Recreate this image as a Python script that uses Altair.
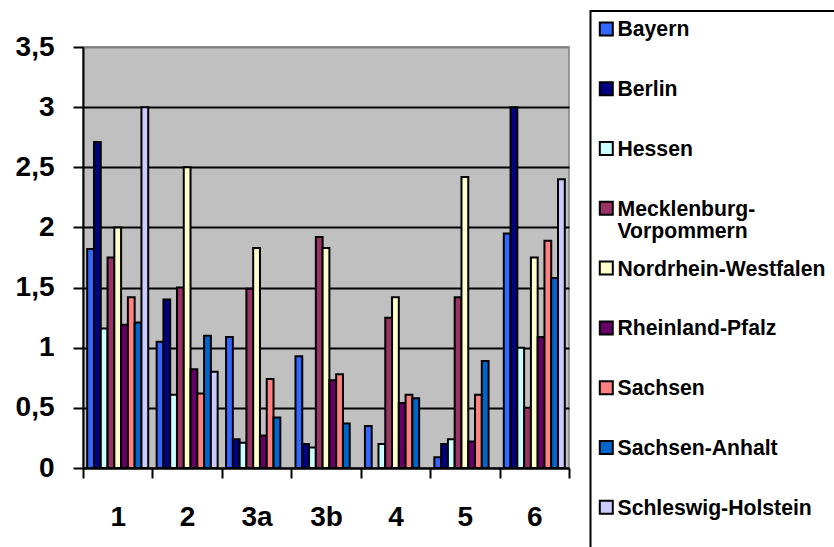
import altair as alt
import pandas as pd

# Categories on the x axis and one value list per Bundesland (None = no bar)
categories = ["1", "2", "3a", "3b", "4", "5", "6"]
series = [
    "Bayern", "Berlin", "Hessen", "Mecklenburg-Vorpommern",
    "Nordrhein-Westfalen", "Rheinland-Pfalz", "Sachsen",
    "Sachsen-Anhalt", "Schleswig-Holstein",
]
bayern = [1.82, 1.05, 1.09, 0.93, 0.35, 0.09, 1.95]
berlin = [2.71, 1.40, 0.24, 0.20, None, 0.20, 3.00]
hessen = [1.16, 0.61, 0.21, 0.17, 0.20, 0.24, 1.00]
mecklenburg_vorpommern = [1.75, 1.50, 1.49, 1.92, 1.25, 1.42, 0.50]
nordrhein_westfalen = [2.00, 2.50, 1.83, 1.83, 1.42, 2.42, 1.75]
rheinland_pfalz = [1.19, 0.82, 0.27, 0.73, 0.54, 0.22, 1.09]
sachsen = [1.42, 0.62, 0.74, 0.78, 0.61, 0.61, 1.89]
sachsen_anhalt = [1.21, 1.10, 0.42, 0.37, 0.58, 0.89, 1.58]
schleswig_holstein = [3.00, 0.80, None, None, None, None, 2.40]

colors = [
    "#3366FF", "#000080", "#CCFFFF", "#993366", "#FFFFCC",
    "#660066", "#FF8080", "#0066CC", "#CCCCFF",
]

# Legend texts; the long name is broken over two lines
legend_labels = [
    "Bayern", "Berlin", "Hessen", ["Mecklenburg-", "Vorpommern"],
    "Nordrhein-Westfalen", "Rheinland-Pfalz", "Sachsen",
    "Sachsen-Anhalt", "Schleswig-Holstein",
]

values_by_series = [
    bayern, berlin, hessen, mecklenburg_vorpommern, nordrhein_westfalen,
    rheinland_pfalz, sachsen, sachsen_anhalt, schleswig_holstein,
]

rows = []
for name, vals in zip(series, values_by_series):
    for cat, v in zip(categories, vals):
        if v is not None:
            rows.append({"Kategorie": cat, "Land": name, "Wert": v})
df = pd.DataFrame(rows)

legend_df = pd.DataFrame({"Land": series, "Label": legend_labels})

FONT = "Liberation Sans"
color_scale = alt.Scale(domain=series, range=colors)

bars = (
    alt.Chart(df)
    .mark_bar(stroke="black", strokeWidth=2, opacity=1)
    .encode(
        x=alt.X(
            "Kategorie:N",
            sort=categories,
            scale=alt.Scale(paddingInner=0, paddingOuter=0),
            axis=alt.Axis(
                title=None,
                labelAngle=0,
                tickBand="extent",
                tickSize=10,
                tickWidth=2,
                tickColor="black",
                domainColor="black",
                domainWidth=2,
                labelFont=FONT,
                labelFontSize=28,
                labelFontWeight="bold",
                labelColor="black",
                labelPadding=25,
                grid=False,
            ),
        ),
        xOffset=alt.XOffset(
            "Land:N",
            sort=series,
            scale=alt.Scale(domain=series, paddingInner=0, paddingOuter=0.62),
        ),
        y=alt.Y(
            "Wert:Q",
            scale=alt.Scale(domain=[0, 3.5], nice=False),
            axis=alt.Axis(
                title=None,
                values=[0, 0.5, 1, 1.5, 2, 2.5, 3, 3.5],
                labelExpr="replace(format(datum.value, '~g'), '.', ',')",
                tickSize=10,
                tickWidth=2,
                tickColor="black",
                domainColor="black",
                domainWidth=2,
                labelFont=FONT,
                labelFontSize=28,
                labelFontWeight="bold",
                labelColor="black",
                labelPadding=19,
                grid=True,
                gridColor={
                    "condition": {"test": "datum.value >= 3.5", "value": "#808080"},
                    "value": "black",
                },
                gridWidth=2,
                gridOpacity=1,
            ),
        ),
        color=alt.Color("Land:N", sort=series, scale=color_scale, legend=None),
    )
)

# Legend: one row per Land on its own point scale
legend_y = alt.Y(
    "Land:N",
    sort=series,
    scale=alt.Scale(type="point", domain=series, range=[-18.1, 460.3], padding=0),
    axis=None,
)

legend_symbols = (
    alt.Chart(legend_df)
    .mark_square(size=169, stroke="black", strokeWidth=2, opacity=1, filled=True)
    .encode(
        x=alt.value(523.3),
        y=legend_y,
        color=alt.Color("Land:N", sort=series, scale=color_scale, legend=None),
    )
)

legend_text = (
    alt.Chart(legend_df)
    .mark_text(
        align="left",
        baseline="alphabetic",
        dy=7.5,
        font=FONT,
        fontSize=21.2,
        fontWeight="bold",
        lineHeight=22.5,
        color="black",
    )
    .encode(x=alt.value(534.5), y=legend_y, text="Label:N")
)

# Frame around the legend area
frame = (
    alt.Chart(pd.DataFrame({"k": [0]}))
    .mark_rect(fill="white", stroke="black", strokeWidth=2)
    .encode(
        x=alt.value(507.5),
        x2=alt.value(800),
        y=alt.value(-36),
        y2=alt.value(600),
    )
)

chart = (
    alt.layer(frame, bars, legend_symbols, legend_text)
    .resolve_scale(y="independent")
    .properties(
        width=486,
        height=421,
        autosize=alt.AutoSizeParams(type="none"),
        padding={"left": 83, "top": 47, "right": 265, "bottom": 79},
        background="white",
    )
    .configure_view(fill="#C0C0C0", stroke="#808080", strokeWidth=1.5)
)

chart.save("out.html", embed_options={"renderer": "svg", "actions": False})
